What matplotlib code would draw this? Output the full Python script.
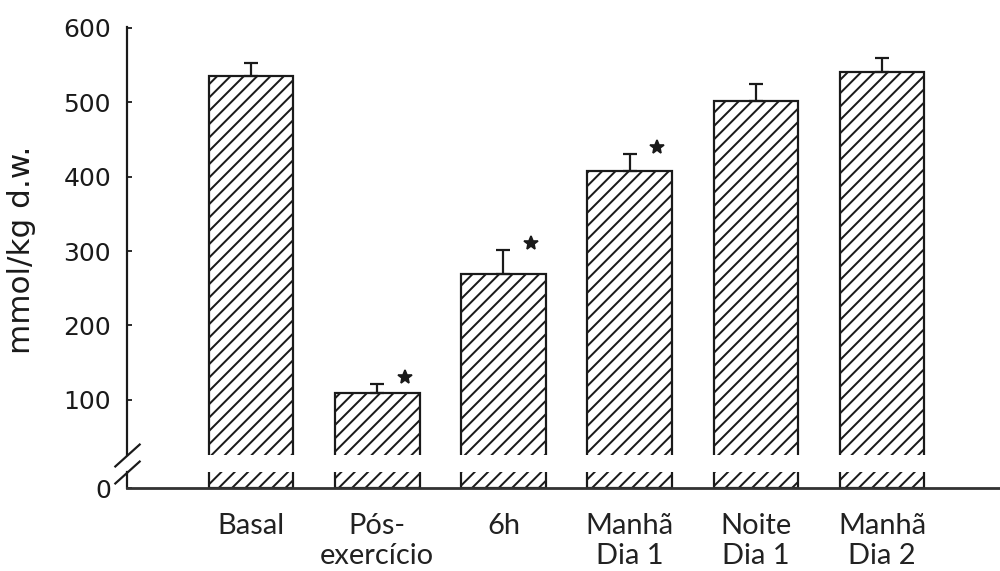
#!/usr/bin/env python3

import numpy as np
import matplotlib
matplotlib.use('Agg')
import matplotlib.pyplot as plt

# muscle glycogen per time point (mean and upper error)
categories = ['Basal', 'Pós-\nexercício', '6h', 'Manhã\nDia 1', 'Noite\nDia 1', 'Manhã\nDia 2']
means = [535, 109, 269, 408, 501, 540]
errors = [17, 12, 32, 22, 24, 20]
significant = [False, True, True, True, False, False]

INK = '#1a1a1a'
W, H, DPI = 1000, 571, 120


def px(v):
    # pixel size -> points at this dpi
    return v * 72.0 / DPI


plt.rcParams['hatch.linewidth'] = px(2.0)
plt.rcParams['hatch.color'] = INK

fig = plt.figure(figsize=(W / DPI, H / DPI), dpi=DPI)
fig.patch.set_facecolor('white')

left = 127 / W
width = (W - 127) / W
# upper panel: 26..601, lower panel: 0..21.5 (broken axis)
ax_top = fig.add_axes([left, 1 - 455 / H, width, (455 - 27) / H])
ax_bot = fig.add_axes([left, 1 - 488 / H, width, (488 - 472) / H])

x = np.arange(len(categories))
bar_w = 0.67

for ax in (ax_top, ax_bot):
    ax.bar(x, means, bar_w, color='white', edgecolor=INK, linewidth=px(2.2),
           hatch='///')
    ax.set_xlim(-0.983, 5.935)
    for s in ('top', 'right'):
        ax.spines[s].set_visible(False)
    ax.spines['left'].set_linewidth(px(2.2))
    ax.spines['left'].set_color(INK)
    ax.tick_params(axis='y', direction='in', length=px(5), width=px(1.8),
                   color=INK, labelsize=px(25), pad=px(16), labelcolor=INK)
    ax.set_facecolor('none')

ax_top.errorbar(x, means, yerr=[np.zeros(len(means)), errors], fmt='none',
                ecolor=INK, elinewidth=px(2.2), capsize=px(7), capthick=px(2.2))
for xi, m, e, sig in zip(x, means, errors, significant):
    if sig:
        ax_top.plot(xi + 0.22, m + e + 10, marker='*', color=INK,
                    markersize=px(15), linestyle='none')

ax_top.set_ylim(26, 601)
ax_top.set_yticks([100, 200, 300, 400, 500, 600])
ax_top.spines['bottom'].set_visible(False)
ax_top.tick_params(axis='x', bottom=False, labelbottom=False)

ax_bot.set_ylim(0, 21.5)
ax_bot.set_yticks([0])
ax_bot.spines['bottom'].set_linewidth(px(2.8))
ax_bot.spines['bottom'].set_color('#333333')
ax_bot.set_xticks(x)
ax_bot.set_xticklabels(categories, fontfamily='Lato', fontsize=px(29),
                       linespacing=1.2, color='#222222')
ax_bot.tick_params(axis='x', length=0, pad=px(25))

# break marks on the y axis
brk = dict(marker=[(-1, -0.9), (1, 0.9)], markersize=px(26), linestyle='none',
           color=INK, mec=INK, mew=px(2.2), clip_on=False)
ax_top.plot([0], [0], transform=ax_top.transAxes, **brk)
ax_bot.plot([0], [1], transform=ax_bot.transAxes, **brk)

fig.text(22 / W, 1 - 250 / H, 'mmol/kg d.w.', rotation=90, fontsize=px(31),
         ha='center', va='center', color=INK)

fig.savefig('out.png', dpi=DPI, facecolor='white')
